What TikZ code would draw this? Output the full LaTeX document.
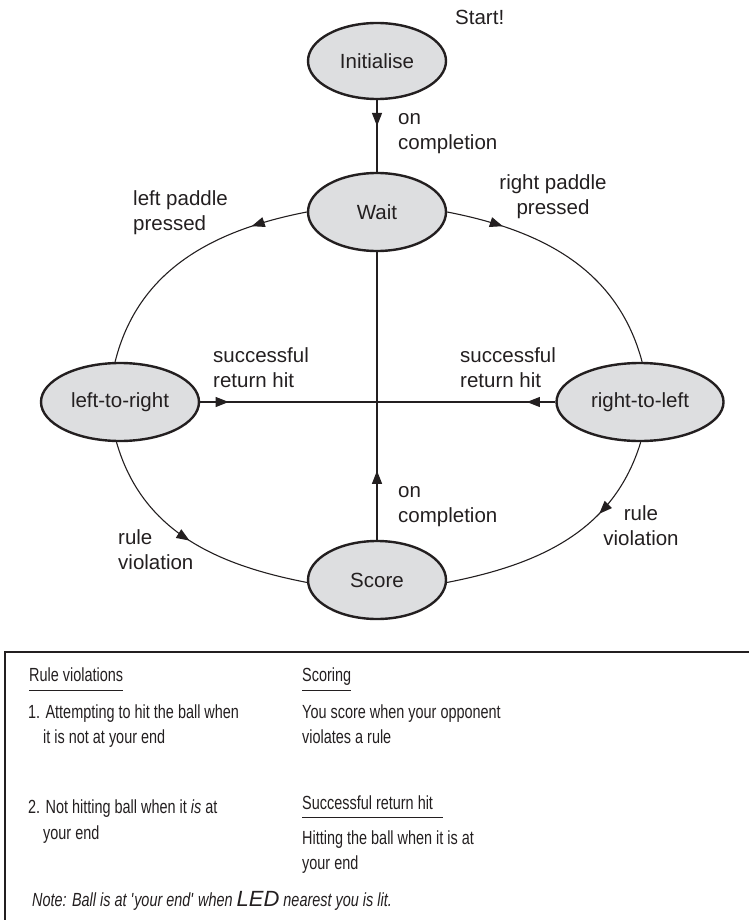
\documentclass[tikz,border=0pt]{standalone}
\usepackage{fontspec}
\setmainfont{Liberation Sans}
\newfontfamily\narrowfont[FakeStretch=0.76]{Liberation Sans}
\usepackage{tikz}
\usetikzlibrary{shapes.geometric, arrows.meta, decorations.markings}
\definecolor{statefill}{RGB}{221,222,224}
\definecolor{inkblack}{RGB}{35,31,32}

\tikzset{
  statenode/.style={ellipse, draw=inkblack, line width=2.4pt, fill=statefill,
    minimum width=138pt, minimum height=76pt, inner sep=0pt,
    font=\fontsize{20.5}{25}\selectfont},
  trans/.style={draw=inkblack, line width=1.1pt},
  midarrow/.style={postaction={decorate}, decoration={markings,
    mark=at position #1 with {\arrow{Triangle[length=13pt,width=10pt]}}}},
  lbl/.style={align=left, anchor=west, inner sep=0pt,
    font=\fontsize{20.5}{25}\selectfont},
  boxtxt/.style={anchor=base west, inner sep=0pt,
    font=\narrowfont\fontsize{19}{26}\selectfont},
}

\begin{document}
\begin{tikzpicture}[x=1pt, y=1pt, color=inkblack]
  \useasboundingbox (0,0) rectangle (748,-920);

  % states
  \node[statenode] (init) at (377,-61) {Initialise};
  \node[statenode, minimum height=78pt] (wait) at (377,-212) {Wait};
  \node[statenode, minimum width=158pt, minimum height=78pt] (ltr) at (120,-402) {left-to-right};
  \node[statenode, minimum width=167pt, minimum height=78pt] (rtl) at (640,-402) {right-to-left};
  \node[statenode, minimum height=78pt] (score) at (377,-580) {Score};
  \node[lbl] (start) at (455,-17) {Start!};

  % straight transitions
  \draw[trans, midarrow=0.36] (init) -- (wait);
  \draw[trans, midarrow=0.24] (score) -- (wait);
  \draw[trans, midarrow=0.08] (ltr) -- (rtl);
  \draw[trans, midarrow=0.08] (rtl) -- (ltr);

  % the outer loop
  \draw[trans, midarrow=0.22] (wait.west) to[out=191, in=76] (ltr.97);
  \draw[trans, midarrow=0.22] (wait.east) to[out=-11, in=105] (rtl.87);
  \draw[trans, midarrow=0.5] (ltr.265) to[out=-74, in=169] (score.182);
  \draw[trans, midarrow=0.33] (rtl.271) to[out=-107, in=11] (score.358);

  % labels
  \node[lbl] (oncomp1) at (398,-134) {on\\completion};
  \node[lbl] (oncomp2) at (398,-507) {on\\completion};
  \node[lbl] (leftpad) at (133,-213) {left paddle\\pressed};
  \node[lbl, align=center, anchor=center] (rightpad) at (553,-197) {right paddle\\pressed};
  \node[lbl] (hitl) at (213,-368) {successful\\return hit};
  \node[lbl] (hitr) at (460,-368) {successful\\return hit};
  \node[lbl] (rulel) at (118,-550) {rule\\violation};
  \node[lbl, align=center, anchor=center] (ruler) at (641,-526) {rule\\violation};

  % key box
  \draw[line width=1.1pt] (760,-652) -- (5,-652) -- (5,-930);

  \node[boxtxt] (rvhead) at (29,-681) {Rule violations};
  \draw[line width=1pt] ([yshift=-9pt]rvhead.base west) -- ([yshift=-9pt]rvhead.base east);
  \node[boxtxt] (rv1a) at (28,-718) {1. Attempting to hit the ball when};
  \node[boxtxt] (rv1b) at (43,-743) {it is not at your end};
  \node[boxtxt] (rv2a) at (28,-813) {2. Not hitting ball when it \textit{is} at};
  \node[boxtxt] (rv2b) at (43,-839) {your end};

  \node[boxtxt] (schead) at (302,-681) {Scoring};
  \draw[line width=1pt] ([yshift=-9pt]schead.base west) -- ([yshift=-9pt]schead.base east);
  \node[boxtxt] (sc1) at (302,-718) {You score when your opponent};
  \node[boxtxt] (sc2) at (302,-743) {violates a rule};

  \node[boxtxt] (srhead) at (302,-809) {Successful return hit};
  \draw[line width=1pt] ([yshift=-8pt]srhead.base west) -- ([xshift=10pt,yshift=-8pt]srhead.base east);
  \node[boxtxt] (sr1) at (302,-844) {Hitting the ball when it is at};
  \node[boxtxt] (sr2) at (302,-869) {your end};

  \node[boxtxt, font=\narrowfont\itshape\fontsize{19}{26}\selectfont] (note) at (32,-906)
    {Note: Ball is at \textquotesingle your end\textquotesingle\ when
     {\rmfamily\fontsize{22}{26}\selectfont LED} nearest you is lit.};
\end{tikzpicture}
\end{document}
